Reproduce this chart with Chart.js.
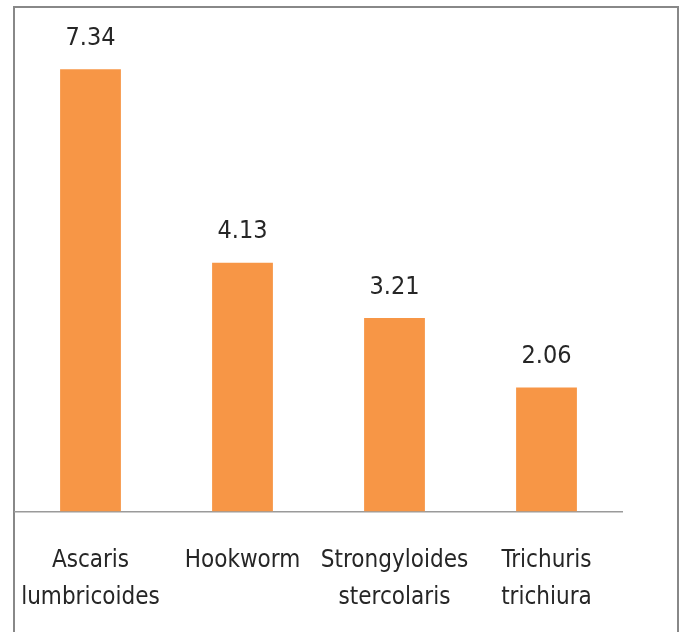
<!DOCTYPE html>
<html>
<head>
<meta charset="utf-8">
<script src="https://cdn.jsdelivr.net/npm/chart.js@4.4.1/dist/chart.umd.min.js"></script>
<style>
  html, body { margin: 0; padding: 0; background: #fff; overflow: hidden; }
  #wrap { position: relative; width: 683px; height: 632px; }
  #frame { position: absolute; left: 13px; top: 6px; width: 666px; height: 640px; border: 2px solid #888; box-sizing: border-box; }
  canvas { position: absolute; left: 0; top: 0; }
</style>
</head>
<body>
<div id="wrap">
  <div id="frame"></div>
  <canvas id="chart" width="683" height="632"></canvas>
</div>
<script>
// ========== DATA ==========
const categories = [['Ascaris', 'lumbricoides'], ['Hookworm'], ['Strongyloides', 'stercolaris'], ['Trichuris', 'trichiura']];
const values = [7.34, 4.13, 3.21, 2.06];
const valueLabels = ['7.34', '4.13', '3.21', '2.06'];

const FONT = "'Liberation Sans Narrow', 'DejaVu Sans Condensed', sans-serif";

// value labels drawn above each bar
const barValuePlugin = {
    id: 'barValues',
    afterDatasetsDraw(chart) {
        const ctx = chart.ctx;
        const meta = chart.getDatasetMeta(0);
        ctx.save();
        ctx.font = '25px ' + FONT;
        ctx.fillStyle = '#262626';
        ctx.textAlign = 'center';
        ctx.textBaseline = 'middle';
        meta.data.forEach((bar, i) => {
            ctx.fillText(valueLabels[i], bar.x, bar.y - 31);
        });
        ctx.restore();
    }
};

new Chart(document.getElementById('chart'), {
    type: 'bar',
    data: {
        labels: categories,
        datasets: [{
            data: values,
            backgroundColor: '#F79646',
            borderWidth: 0,
            categoryPercentage: 1,
            barPercentage: 0.4
        }]
    },
    options: {
        responsive: false,
        animation: false,
        events: [],
        layout: { padding: { left: 14.5, right: 60.5, top: 29.5, bottom: 0 } },
        scales: {
            x: {
                grid: { display: false, drawTicks: false },
                border: { display: true, color: '#9a9a9a', width: 1.5 },
                ticks: {
                    color: '#262626',
                    padding: 31,
                    maxRotation: 0,
                    autoSkip: false,
                    font: { family: FONT, size: 24, lineHeight: 1.54 }
                },
                afterFit: (scale) => {
                    scale.height = 120.5;
                    scale.paddingLeft = 0;
                    scale.paddingRight = 0;
                }
            },
            y: {
                display: false,
                min: 0,
                max: 8
            }
        },
        plugins: {
            legend: { display: false },
            tooltip: { enabled: false }
        }
    },
    plugins: [barValuePlugin]
});
</script>
</body>
</html>
